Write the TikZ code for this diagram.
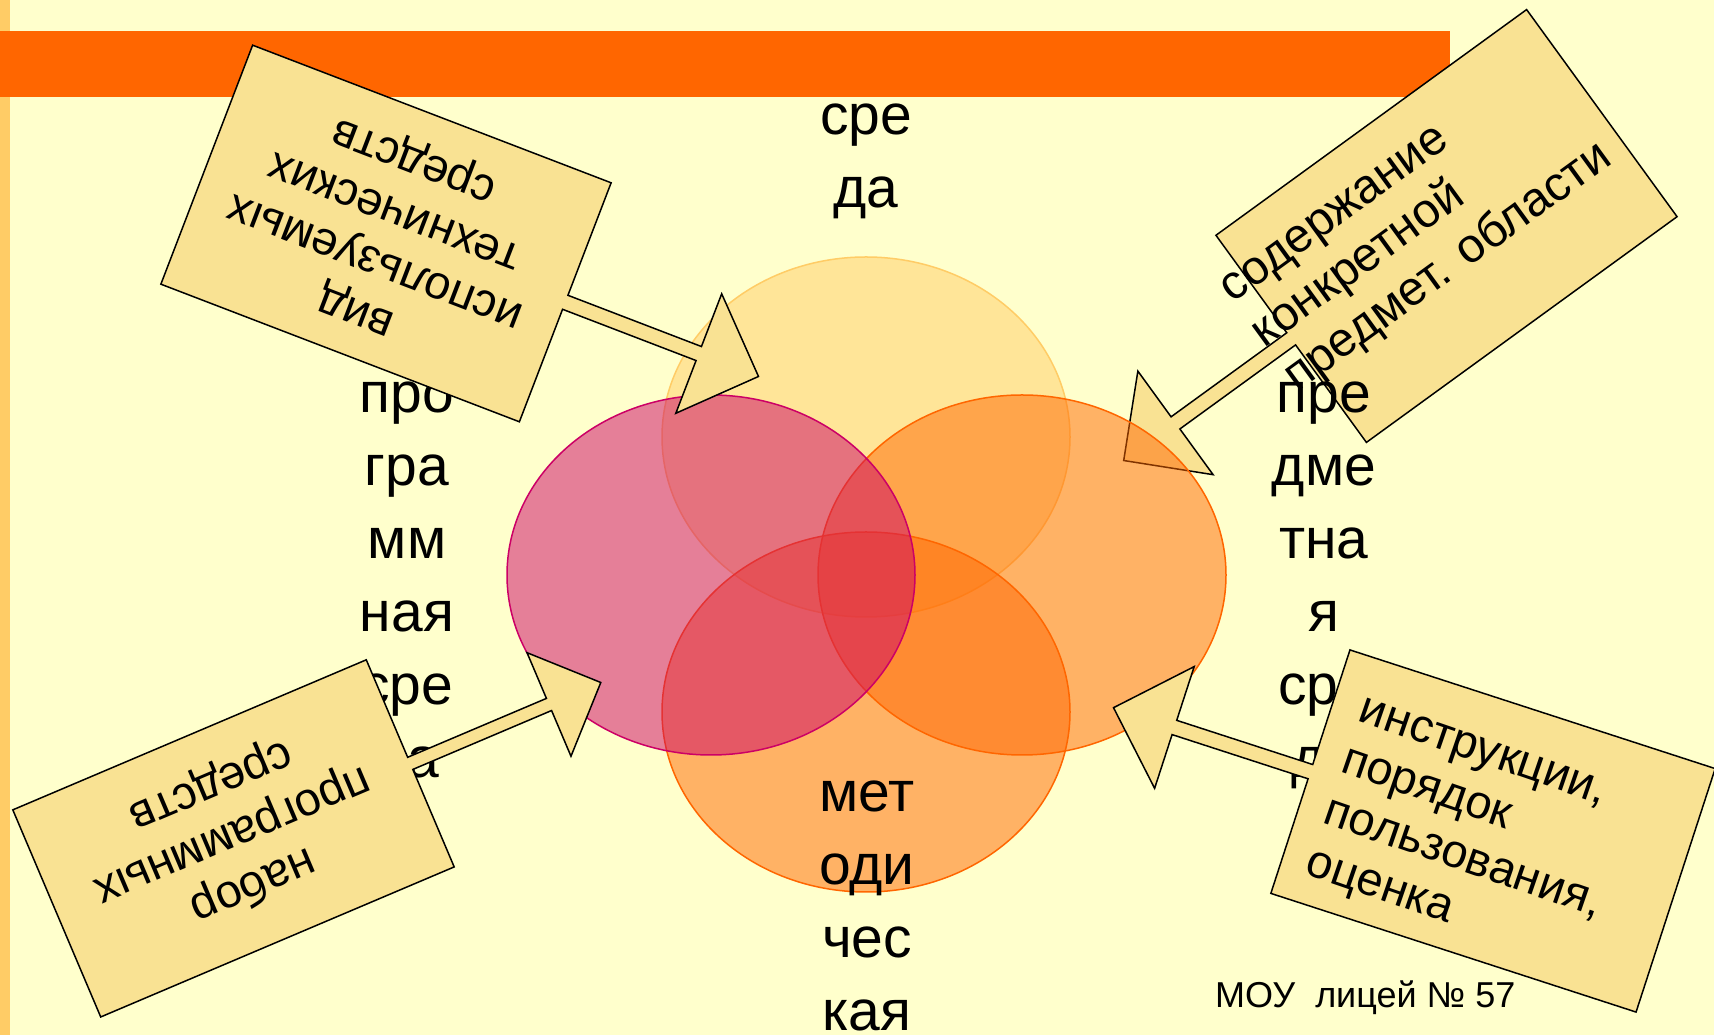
\documentclass[tikz,border=0pt]{standalone}
\usepackage{fontspec}
\setmainfont{Liberation Sans}
\definecolor{bgyellow}{HTML}{FFFFCC}
\definecolor{stripcol}{HTML}{FFCC66}
\definecolor{barcol}{HTML}{FF6600}
\definecolor{boxfill}{HTML}{F9E293}
\definecolor{topcirc}{HTML}{FFCC66}
\definecolor{pinkcirc}{HTML}{CC0066}
\definecolor{orangecirc}{HTML}{FF6600}
\newcommand{\calloutshape}[1]{%
  \draw[calloutbox] (192,#1) -- (-192,#1) -- (-192,{0.0586*#1})
    -- ({-399+0.5*#1},{0.0586*#1}) -- ({-399+0.5*#1},{0.5*#1}) -- (-399,0)
    -- ({-399+0.5*#1},{-0.5*#1}) -- ({-399+0.5*#1},{-0.0586*#1})
    -- (-192,{-0.0586*#1}) -- (-192,-#1) -- (192,-#1) -- cycle;}
\begin{document}
\begin{tikzpicture}[x=1pt,y=1pt,
  calloutbox/.style={draw=black,line width=1.5pt,fill=boxfill,line join=miter},
  cotext/.style={inner sep=0pt,transform shape,font=\fontsize{47}{54}\selectfont},
  bigtext/.style={inner sep=0pt,font=\fontsize{57}{73}\selectfont},
  circ/.style={line width=1.5pt,fill opacity=0.5}]
\useasboundingbox (0,0) rectangle (1714,1035);
\fill[bgyellow] (0,0) rectangle (1714,1035);
\fill[stripcol] (0,0) rectangle (10,1035);
\fill[barcol] (0,938) rectangle (1450,1004);
% callout 2 (behind the circles)
\begin{scope}[shift={(1446.5,809)},rotate=36]
  \calloutshape{128}
  \node[cotext,anchor=base west,font=\fontsize{48}{55}\selectfont] (c2) at (-219,63)
    {\begin{tabular}[t]{@{}l@{}}содержание\\конкретной\\предмет. области\end{tabular}};
\end{scope}
% circles
\draw[circ,draw=topcirc,fill=topcirc] (866,598) ellipse [x radius=204,y radius=180];
\draw[circ,draw=orangecirc,fill=orangecirc] (1022,460) ellipse [x radius=204,y radius=180];
\draw[circ,draw=orangecirc,fill=orangecirc] (866,323) ellipse [x radius=204,y radius=180];
\draw[circ,draw=pinkcirc,fill=pinkcirc] (711,460) ellipse [x radius=204,y radius=180];
% big texts
\node[bigtext,anchor=base] (top) at (866,900)
  {\begin{tabular}[t]{@{}c@{}}сре\\да\end{tabular}};
\node[bigtext,anchor=base] (left) at (407,622)
  {\begin{tabular}[t]{@{}c@{}}про\\гра\\мм\\ная\\сре\\да\end{tabular}};
\node[bigtext,anchor=base] (right) at (1324,622)
  {\begin{tabular}[t]{@{}c@{}}пре\\дме\\тна\\я\\сре\\да\end{tabular}};
\node[bigtext,anchor=base] (bottom) at (867,223)
  {\begin{tabular}[t]{@{}c@{}}мет\\оди\\чес\\кая\end{tabular}};
% callout 1
\begin{scope}[shift={(386,801.5)},rotate=159]
  \calloutshape{128}
  \node[cotext,anchor=base] (c1) at (0,72)
    {\begin{tabular}[t]{@{}c@{}}вид\\используемых\\технических\\средств\end{tabular}};
\end{scope}
% callout 3
\begin{scope}[shift={(233.5,196.6)},rotate=203]
  \calloutshape{112.5}
  \node[cotext,anchor=base] (c3) at (0,38)
    {\begin{tabular}[t]{@{}c@{}}набор\\программных\\средств\end{tabular}};
\end{scope}
% callout 4
\begin{scope}[shift={(1493,204)},rotate=-18]
  \calloutshape{128}
  \node[cotext,anchor=base west,rotate=-1] (c4) at (-164,63)
    {\begin{tabular}[t]{@{}l@{}}инструкции,\\порядок\\пользования,\\оценка\end{tabular}};
\end{scope}
\node[inner sep=0pt,anchor=base west,font=\fontsize{36}{42}\selectfont] (foot) at (1215,27) {МОУ\ \ лицей №~57};
\end{tikzpicture}
\end{document}
